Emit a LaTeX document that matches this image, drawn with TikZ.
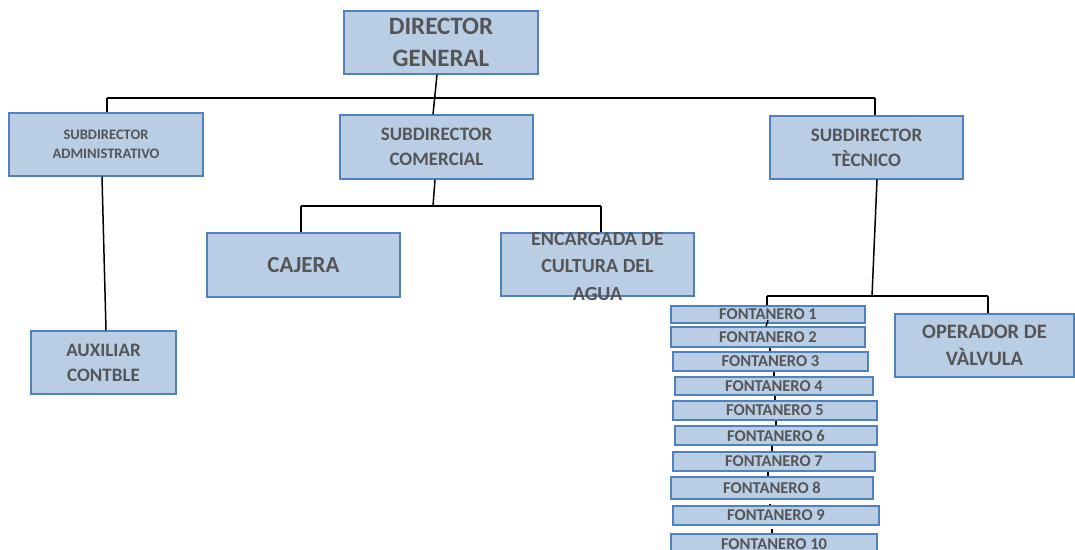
\documentclass[tikz,border=0pt]{standalone}
\usepackage{fontspec}
\setmainfont{Carlito}
\definecolor{boxfill}{HTML}{B9CDE5}
\definecolor{boxline}{HTML}{4F81BD}
\definecolor{txtgray}{HTML}{555555}
\tikzset{
  box/.style={draw=boxline, fill=boxfill, line width=1.3pt, inner sep=0pt, align=center, text=txtgray},
  fbox/.style={box, font=\bfseries\fontsize{16.5}{18}\selectfont},
  lbl/.style={inner sep=0pt, align=center, text=txtgray},
  conn/.style={draw=black, line width=1.5pt},
}
\begin{document}
\begin{tikzpicture}[x=1pt,y=-1pt]
\useasboundingbox (0,0) rectangle (1075,549);
\clip (0,0) rectangle (1075,549);
% top level
\node[box, minimum width=194pt, minimum height=63pt, font=\bfseries\fontsize{25}{32}\selectfont] (dir) at (441,42.5) {DIRECTOR\\GENERAL};
\node[box, minimum width=194pt, minimum height=63pt, font=\bfseries\fontsize{14.5}{18.5}\selectfont] (adm) at (106,144.5) {SUBDIRECTOR\\ADMINISTRATIVO};
\node[box, minimum width=193pt, minimum height=64pt, font=\bfseries\fontsize{19}{25}\selectfont] (com) at (436.5,147) {SUBDIRECTOR\\COMERCIAL};
\node[box, minimum width=193pt, minimum height=63pt, font=\bfseries\fontsize{19}{25}\selectfont] (tec) at (866.5,147.5) {SUBDIRECTOR\\TÈCNICO};
\node[box, minimum width=145pt, minimum height=63pt, font=\bfseries\fontsize{19}{25}\selectfont] (aux) at (103.5,362.5) {AUXILIAR\\CONTBLE};
\node[box, minimum width=193pt, minimum height=64pt, font=\bfseries\fontsize{23}{27}\selectfont] (caj) at (303.5,265) {CAJERA};
\node[box, minimum width=193pt, minimum height=63pt] (enc) at (597.5,264.5) {};
\node[lbl, font=\bfseries\fontsize{20}{27.5}\selectfont] (enct) at (597.5,266.5) {ENCARGADA DE\\CULTURA DEL\\AGUA};
\node[box, minimum width=179pt, minimum height=63pt, font=\bfseries\fontsize{20.5}{27}\selectfont] (op) at (984.5,345.5) {OPERADOR DE\\VÀLVULA};
% fontaneros
\node[fbox, minimum width=194pt, minimum height=17pt] (f1) at (768,314.5) {FONTANERO 1};
\node[fbox, minimum width=194pt, minimum height=20pt] (f2) at (768,337) {FONTANERO 2};
\node[fbox, minimum width=195pt, minimum height=19pt] (f3) at (770.5,361.5) {FONTANERO 3};
\node[fbox, minimum width=198pt, minimum height=18pt] (f4) at (774,386) {FONTANERO 4};
\node[fbox, minimum width=204pt, minimum height=19pt] (f5) at (775,410.5) {FONTANERO 5};
\node[fbox, minimum width=202pt, minimum height=19pt] (f6) at (776,435.5) {FONTANERO 6};
\node[fbox, minimum width=202pt, minimum height=19pt] (f7) at (774,461.5) {FONTANERO 7};
\node[fbox, minimum width=202pt, minimum height=22pt] (f8) at (772,488) {FONTANERO 8};
\node[fbox, minimum width=206pt, minimum height=19pt] (f9) at (776,515.5) {FONTANERO 9};
\node[fbox, minimum width=206pt, minimum height=20pt] (f10) at (774,544) {FONTANERO 10};
% bus lines
\coordinate (busL) at (107,98);
\coordinate (busR) at (875,98);
\draw[conn] (busL) -- (busR);
\draw[conn] (busL) -- (busL |- adm.north);
\draw[conn] (busR) -- (busR |- tec.north);
\draw[conn] ([xshift=-4pt]dir.south) -- ([xshift=-3.5pt]com.north);
\draw[conn] ([xshift=-4pt]adm.south) -- ([xshift=2.5pt]aux.north);
% comercial
\coordinate (bc) at (433,206);
\coordinate (bcL) at (301,206);
\coordinate (bcR) at (601,206);
\draw[conn] ([xshift=-1.5pt]com.south) -- (bc);
\draw[conn] (bcL) -- (bcR);
\draw[conn] (bcL) -- (bcL |- caj.north);
\draw[conn] (bcR) -- (bcR |- enc.north);
% tecnico
\coordinate (bt) at (872,296);
\coordinate (btL) at (767,296);
\coordinate (btR) at (988,296);
\draw[conn] ([xshift=10.5pt]tec.south) -- (bt);
\draw[conn] (btL) -- (btR);
\draw[conn] (btL) -- (btL |- f1.north);
\draw[conn] (btR) -- (btR |- op.north);
% fontanero chain
\draw[conn] ([yshift=3.5pt]f1.south) -- ([xshift=-2pt]f2.north);
\draw[conn] ([xshift=2pt]f2.south) -- ([xshift=-0.5pt]f3.north);
\draw[conn] ([xshift=3.5pt]f3.south) -- (f4.north);
\draw[conn] ([xshift=1pt]f4.south) -- (f5.north);
\draw[conn] ([xshift=1pt]f5.south) -- (f6.north);
\draw[conn] ([xshift=-4pt]f6.south) -- ([xshift=-2pt]f7.north);
\draw[conn] ([xshift=-6pt]f7.south) -- ([xshift=-4pt]f8.north);
\draw[conn] ([xshift=-2pt,yshift=-4pt]f8.south) -- ([xshift=-6pt]f9.north);
\draw[conn] ([xshift=-4pt,yshift=-3pt]f9.south) -- ([xshift=-2pt]f10.north);
\end{tikzpicture}
\end{document}
